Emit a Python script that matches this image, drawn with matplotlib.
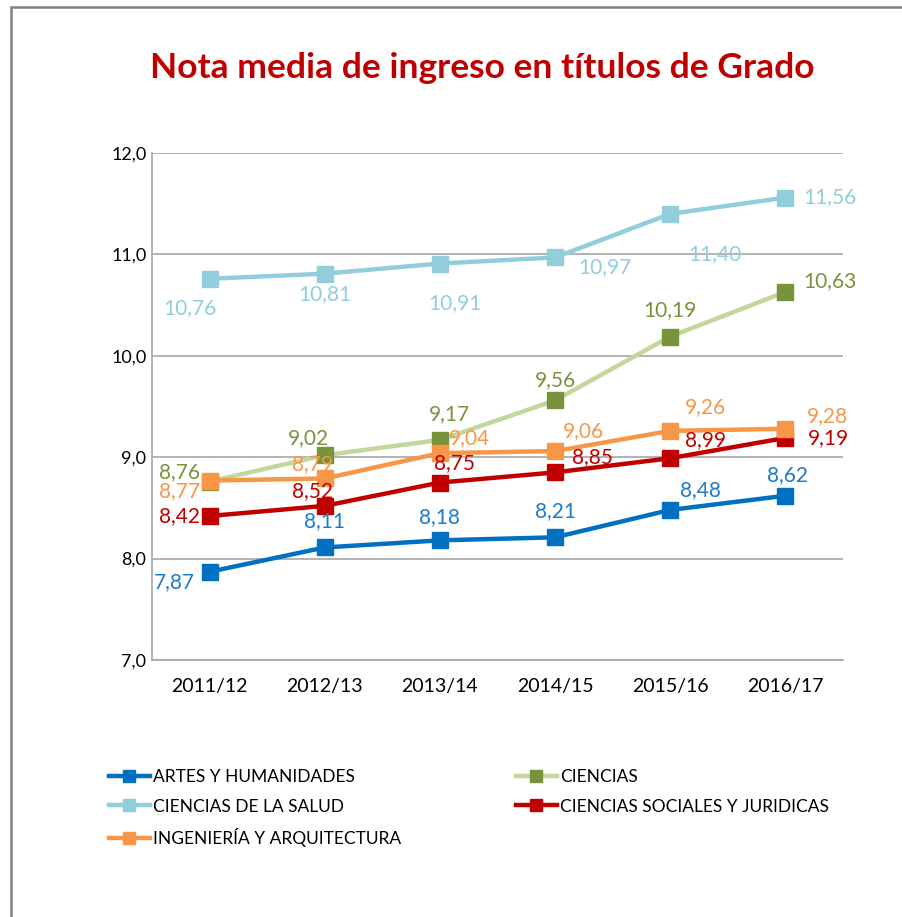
import numpy as np
import matplotlib
matplotlib.use('Agg')
import matplotlib.pyplot as plt
from matplotlib.patches import Rectangle

plt.rcParams['font.family'] = ['Lato', 'DejaVu Sans']

# data
years = ['2011/12', '2012/13', '2013/14', '2014/15', '2015/16', '2016/17']
artes = [7.87, 8.11, 8.18, 8.21, 8.48, 8.62]
ciencias = [8.76, 9.02, 9.17, 9.56, 10.19, 10.63]
salud = [10.76, 10.81, 10.91, 10.97, 11.40, 11.56]
sociales = [8.42, 8.52, 8.75, 8.85, 8.99, 9.19]
ingenieria = [8.77, 8.79, 9.04, 9.06, 9.26, 9.28]

names = ['ARTES Y HUMANIDADES', 'CIENCIAS', 'CIENCIAS DE LA SALUD',
         'CIENCIAS SOCIALES Y JURIDICAS', 'INGENIERÍA Y ARQUITECTURA']
series = [artes, ciencias, salud, sociales, ingenieria]

# styles: line colour, marker colour, label colour
line_cols = ['#0070C0', '#C3D69B', '#92CDDC', '#C00000', '#F79646']
mark_cols = ['#0070C0', '#77933C', '#92CDDC', '#C00000', '#F79646']
lab_cols = ['#1F7BC8', '#77933C', '#92CDDC', '#C00000', '#F79646']

# label offsets in pixels (dx, dy up)
offsets = [
    [(-35, -10), (0, 26), (0, 23), (0, 26), (30, 20), (2, 21)],
    [(-30, 9), (-16, 17), (10, 26), (0, 20), (0, 26), (44, 11)],
    [(-20, -29), (0, -20), (15, -40), (50, -10), (45, -40), (44, 1)],
    [(-30, 0), (-12, 15), (15, 19), (37, 15), (35, 18), (43, 0)],
    [(-30, -11), (-12, 14), (30, 15), (28, 20), (35, 24), (42, 13)],
]

W, H = 902, 917
fig = plt.figure(figsize=(W / 100, H / 100), dpi=100)
fig.patches.append(Rectangle((11 / W, -0.1), 1.2, 1 - 7 / H + 0.1, transform=fig.transFigure,
                             fill=False, edgecolor='#808080', linewidth=1.8))

ax = fig.add_axes([152 / W, 1 - 660 / H, (843 - 152) / W, (660 - 153) / H])
x = np.arange(len(years))
handles = []
for i, s in enumerate(series):
    h, = ax.plot(x, s, color=line_cols[i], linewidth=3.2, marker='s', markersize=11,
                 markerfacecolor=mark_cols[i], markeredgecolor=mark_cols[i],
                 label=names[i], zorder=3 + i, solid_joinstyle='miter')
    handles.append(h)
    for j, v in enumerate(s):
        dx, dy = offsets[i][j]
        ax.annotate(f'{v:.2f}'.replace('.', ','), (x[j], v),
                    xytext=(dx * 0.72, dy * 0.72), textcoords='offset points',
                    ha='center', va='center', fontsize=15, color=lab_cols[i], zorder=10)

ax.set_xlim(-0.5, len(years) - 0.5)
ax.set_ylim(7, 12)
ax.set_yticks(np.arange(7, 12.01, 1))
ax.set_yticklabels([f'{t:.1f}'.replace('.', ',') for t in np.arange(7, 12.01, 1)])
ax.set_xticks(x)
ax.set_xticklabels(years)
ax.tick_params(axis='y', length=0, labelsize=13, colors='black', pad=4)
ax.tick_params(axis='x', length=0, labelsize=14, colors='black', pad=13)
ax.grid(axis='y', color='#A6A6A6', linewidth=1.2)
ax.set_axisbelow(True)
for sp in ['top', 'right']:
    ax.spines[sp].set_visible(False)
for sp in ['left', 'bottom']:
    ax.spines[sp].set_color('#A6A6A6')
    ax.spines[sp].set_linewidth(1.2)

fig.text(482 / W, 1 - 68 / H, 'Nota media de ingreso en títulos de Grado', ha='center', va='center',
         fontsize=25.5, fontweight='bold', color='#C00000')

order = [0, 2, 4, 1, 3]
fig.legend([handles[k] for k in order], [names[k] for k in order], ncol=2,
           loc='upper left', bbox_to_anchor=(93 / W, 1 - 753 / H), frameon=False,
           fontsize=12.5, handlelength=2.4, handletextpad=0.15, columnspacing=6.6,
           labelspacing=0.8, markerscale=0.85)

fig.savefig('out.png', dpi=100)
